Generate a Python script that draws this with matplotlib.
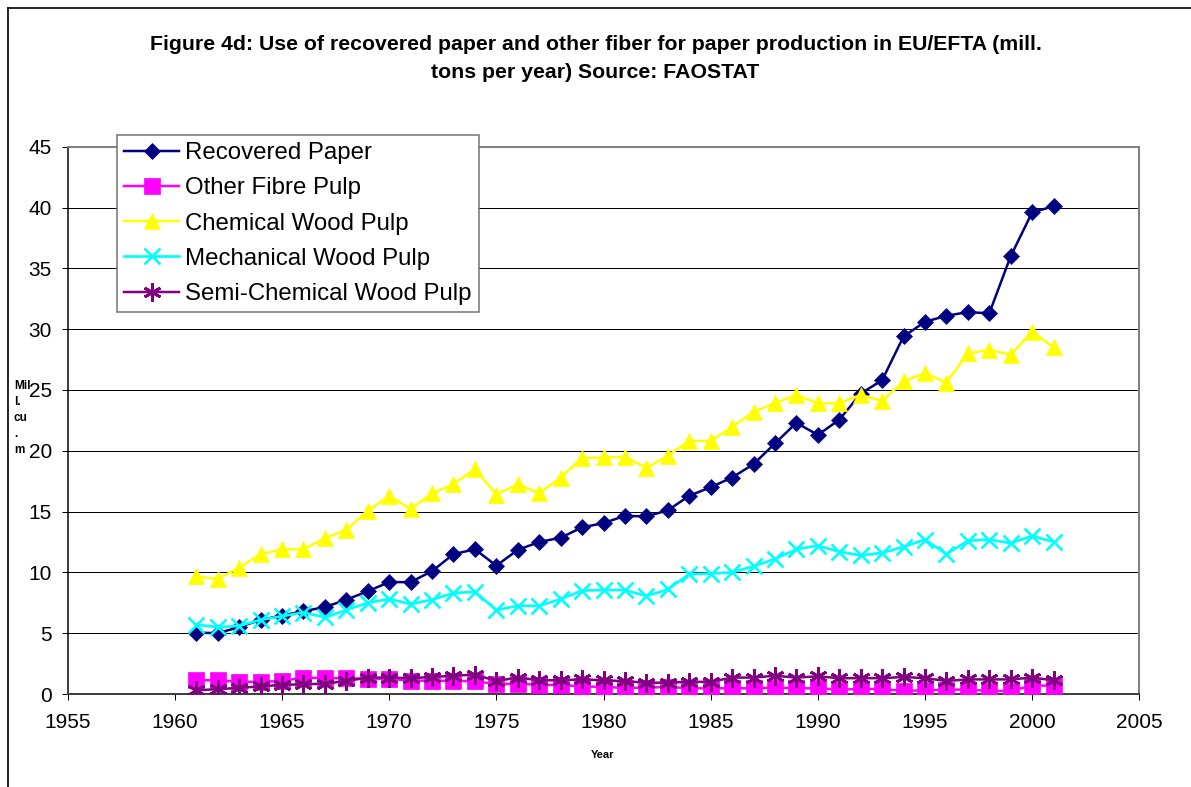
import matplotlib
matplotlib.use('Agg')
import matplotlib.pyplot as plt
from matplotlib.lines import Line2D

plt.rcParams['font.family'] = ['Liberation Sans', 'DejaVu Sans']

## data (mill. cu m)
years = list(range(1961, 2002))
recovered = [5.05, 5.0, 5.5, 6.1, 6.45, 6.8, 7.15, 7.75, 8.45, 9.2,
             9.2, 10.1, 11.5, 11.9, 10.55, 11.85, 12.5, 12.85, 13.7, 14.05,
             14.65, 14.6, 15.1, 16.3, 17.0, 17.8, 18.9, 20.6, 22.3, 21.3,
             22.55, 24.7, 25.8, 29.4, 30.6, 31.1, 31.4, 31.3, 36.0, 39.6, 40.1]
other_fibre = [1.13, 1.13, 1.0, 1.0, 1.07, 1.35, 1.3, 1.3, 1.25, 1.25,
               1.1, 1.1, 1.07, 1.07, 0.8, 0.85, 0.75, 0.75, 0.63, 0.58,
               0.5, 0.52, 0.58, 0.47, 0.47, 0.47, 0.47, 0.52, 0.47, 0.47,
               0.36, 0.41, 0.41, 0.25, 0.3, 0.36, 0.36, 0.25, 0.25, 0.69, 0.69]
chemical = [9.67, 9.45, 10.4, 11.5, 11.9, 11.9, 12.8, 13.5, 15.05, 16.3,
            15.2, 16.5, 17.25, 18.5, 16.4, 17.25, 16.5, 17.8, 19.4, 19.45,
            19.5, 18.6, 19.6, 20.8, 20.8, 21.95, 23.2, 23.9, 24.6, 23.9,
            23.9, 24.6, 24.1, 25.7, 26.4, 25.6, 28.0, 28.3, 27.9, 29.8, 28.5]
mechanical = [5.7, 5.5, 5.6, 6.1, 6.4, 6.7, 6.3, 6.9, 7.5, 7.8,
              7.4, 7.75, 8.3, 8.4, 6.9, 7.25, 7.25, 7.8, 8.5, 8.55,
              8.55, 8.05, 8.6, 9.85, 9.9, 10.0, 10.5, 11.1, 11.9, 12.2,
              11.7, 11.4, 11.6, 12.1, 12.7, 11.5, 12.6, 12.7, 12.4, 13.0, 12.5]
semi_chemical = [0.3, 0.4, 0.5, 0.63, 0.75, 0.8, 0.85, 1.07, 1.35, 1.35,
                 1.3, 1.4, 1.5, 1.6, 1.07, 1.35, 1.13, 1.13, 1.2, 1.13,
                 1.05, 0.93, 0.93, 1.0, 1.0, 1.35, 1.35, 1.5, 1.35, 1.45,
                 1.3, 1.3, 1.3, 1.4, 1.3, 1.07, 1.2, 1.2, 1.2, 1.35, 1.13]

W, H = 1191, 787
fig = plt.figure(figsize=(W / 100, H / 100), dpi=100)

## outer chart border (only top and left are visible in the reference)
fig.add_artist(Line2D([7.5 / W, 1], [1 - 7.5 / H, 1 - 7.5 / H], color='black', lw=1.2))
fig.add_artist(Line2D([7.5 / W, 7.5 / W], [0, 1 - 7.5 / H], color='black', lw=1.2))

left, right, top, bottom = 67.7, 1139.3, 146.7, 694.0
ax = fig.add_axes([left / W, 1 - bottom / H, (right - left) / W, (bottom - top) / H])

px = 72 / 100  # points per pixel
ax.plot(years, recovered, color='#000080', lw=2.5 * px, marker='D', ms=8.3,
        mfc='#000080', mec='#000080', mew=0.5, label='Recovered Paper', zorder=3)
ax.plot(years, other_fibre, color='#FF00FF', lw=2.5 * px, marker='s', ms=11,
        mfc='#FF00FF', mec='#FF00FF', mew=0.5, label='Other Fibre Pulp', zorder=4)
ax.plot(years, chemical, color='#FFFF00', lw=2.5 * px, marker='^', ms=11.5,
        mfc='#FFFF00', mec='#FFFF00', mew=0.5, label='Chemical Wood Pulp', zorder=5)
ax.plot(years, mechanical, color='#00FFFF', lw=2.7 * px, marker='x', ms=11,
        mec='#00FFFF', mew=2.6 * px, label='Mechanical Wood Pulp', zorder=6)
ax.plot(years, semi_chemical, color='#800080', lw=2.5 * px, marker=(6, 2, 0), ms=13,
        mec='#800080', mew=2.8 * px, label='Semi-Chemical Wood Pulp', zorder=7)

ax.set_xlim(1955, 2005)
ax.set_ylim(0, 45)
ax.set_xticks(range(1955, 2006, 5))
ax.set_yticks(range(0, 46, 5))
ax.yaxis.grid(True, color='black', lw=1 * px)
ax.set_axisbelow(True)

for side in ('top', 'right'):
    ax.spines[side].set_color('#808080')
    ax.spines[side].set_linewidth(2 * px)
ax.spines['left'].set_color('black')
ax.spines['left'].set_linewidth(1.5 * px)
ax.spines['bottom'].set_color('#404040')
ax.spines['bottom'].set_linewidth(2 * px)

ax.tick_params(axis='both', direction='out', length=6 * px, width=1 * px,
               labelsize=15, colors='black')
ax.tick_params(axis='y', pad=7)
ax.tick_params(axis='x', pad=9)

leg = ax.legend(loc='upper left', bbox_to_anchor=((117 - left) / (right - left),
                                                   (bottom - 135) / (bottom - top)),
                borderaxespad=0, fontsize=17.3, frameon=True, fancybox=False,
                framealpha=1, edgecolor='#707070', handlelength=2.3,
                handletextpad=0.25, borderpad=0.3, labelspacing=0.55)
leg.get_frame().set_linewidth(1.5 * px)
leg.set_zorder(10)

fig.text(0.5, 1 - 44 / H, 'Figure 4d: Use of recovered paper and other fiber for paper production in EU/EFTA (mill.',
         ha='center', va='center', fontsize=15.3, fontweight='bold')
fig.text(0.5, 1 - 72 / H, 'tons per year) Source: FAOSTAT',
         ha='center', va='center', fontsize=15.3, fontweight='bold')

fig.text(603 / W, 1 - 755 / H, 'Year', ha='center', va='center', fontsize=8, fontweight='bold')
fig.text(14 / W, 1 - 380 / H, 'Mil\nl.\ncu\n.\nm', ha='left', va='top', fontsize=8.5,
         fontweight='bold', linespacing=1.45)

fig.savefig('out.png', dpi=100)
